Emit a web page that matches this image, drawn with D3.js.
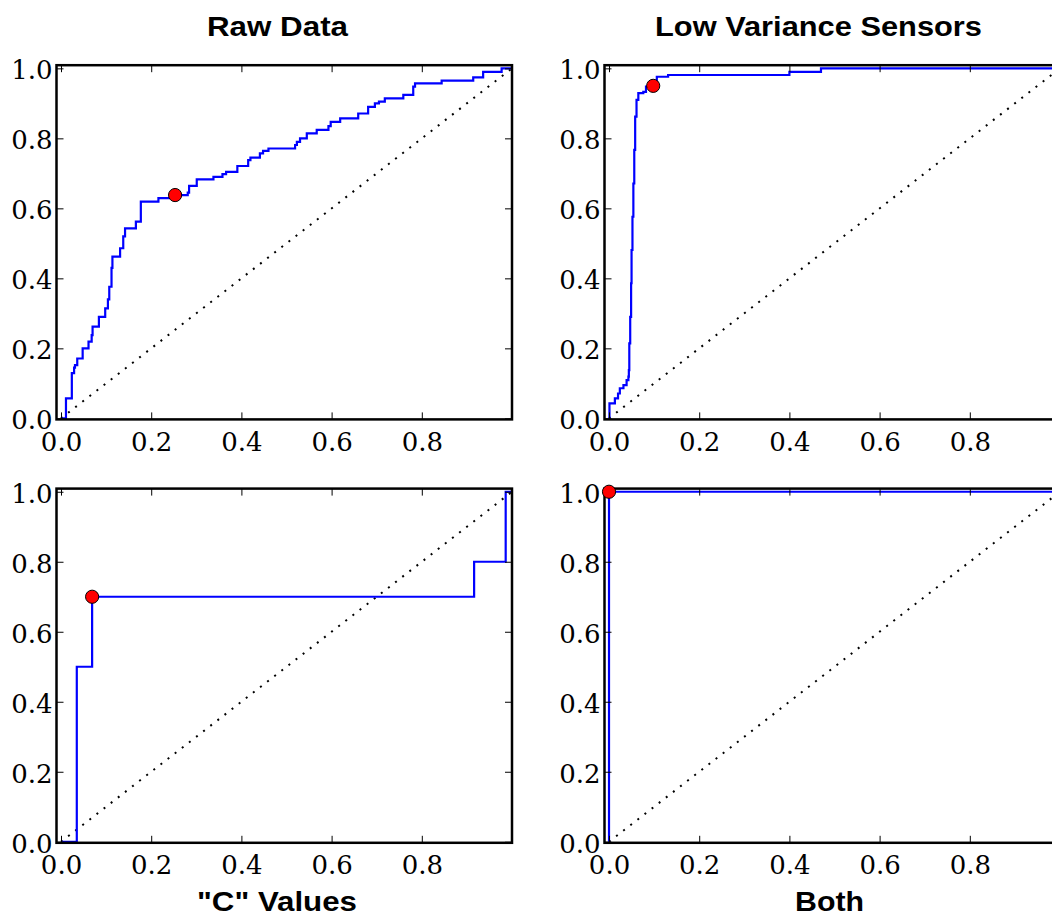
<!DOCTYPE html>
<html>
<head>
<meta charset="utf-8">
<script src="https://cdn.jsdelivr.net/npm/d3@7"></script>
<style>
body { margin: 0; background: #fff; }
</style>
</head>
<body>
<div class="chart"></div>
<script>
var svgWidth = 1052;
var svgHeight = 922;

// ROC curves (left end of each horizontal run)
var rawFpr = [0.000, 0.011, 0.024, 0.029, 0.031, 0.036, 0.048, 0.061, 0.068, 0.070, 0.084, 0.098, 0.104, 0.107,
  0.112, 0.114, 0.131, 0.138, 0.142, 0.166, 0.177, 0.216, 0.258, 0.281, 0.284, 0.301, 0.338, 0.358, 0.366,
  0.391, 0.415, 0.420, 0.441, 0.448, 0.460, 0.519, 0.523, 0.530, 0.545, 0.567, 0.593, 0.598, 0.619, 0.659,
  0.681, 0.696, 0.705, 0.718, 0.759, 0.781, 0.785, 0.844, 0.914, 0.936, 0.977, 1.000];
var rawTpr = [0.000, 0.057, 0.129, 0.145, 0.152, 0.171, 0.200, 0.219, 0.238, 0.262, 0.290, 0.314, 0.340, 0.376,
  0.430, 0.462, 0.486, 0.520, 0.543, 0.562, 0.619, 0.629, 0.638, 0.645, 0.664, 0.683, 0.690, 0.698, 0.704,
  0.721, 0.738, 0.745, 0.757, 0.764, 0.771, 0.781, 0.790, 0.800, 0.814, 0.824, 0.835, 0.847, 0.857, 0.871,
  0.890, 0.900, 0.905, 0.914, 0.924, 0.948, 0.957, 0.965, 0.974, 0.990, 1.000, 1.000];
var rawBest = [0.253, 0.638];

var lowVarFpr = [0.000, 0.001, 0.013, 0.020, 0.024, 0.032, 0.039, 0.043, 0.044, 0.045, 0.047, 0.049, 0.050,
  0.052, 0.054, 0.056, 0.058, 0.061, 0.065, 0.076, 0.082, 0.098, 0.106, 0.131, 0.400, 0.470, 1.000];
var lowVarTpr = [0.000, 0.043, 0.057, 0.071, 0.086, 0.095, 0.109, 0.119, 0.138, 0.214, 0.290, 0.386, 0.481,
  0.576, 0.671, 0.767, 0.862, 0.910, 0.929, 0.933, 0.948, 0.950, 0.976, 0.981, 0.990, 1.000, 1.000];
var lowVarBest = [0.098, 0.950];

var cValFpr = [0.000, 0.035, 0.069, 0.916, 0.986, 1.000];
var cValTpr = [0.000, 0.500, 0.700, 0.800, 1.000, 1.000];
var cValBest = [0.069, 0.700];

var bothFpr = [0.000, 0.000, 1.000];
var bothTpr = [0.000, 1.000, 1.000];
var bothBest = [0.000, 1.000];

var chanceLine = [0, 1];
var xTicks = [0, 0.2, 0.4, 0.6, 0.8];
var yTicks = [0, 0.2, 0.4, 0.6, 0.8, 1.0];
var titles = ["Raw Data", "Low Variance Sensors", "", ""];
var xLabels = ["", "", "\"C\" Values", "Both"];

// layout of the 2x2 grid
var panels = [
  { fpr: rawFpr, tpr: rawTpr, best: rawBest, left: 56.5, top: 65.2, title: titles[0], titleX: 277.5, titleLen: 141, xLabel: xLabels[0] },
  { fpr: lowVarFpr, tpr: lowVarTpr, best: lowVarBest, left: 604.5, top: 65.2, title: titles[1], titleX: 818.5, titleLen: 327, xLabel: xLabels[1] },
  { fpr: cValFpr, tpr: cValTpr, best: cValBest, left: 56.5, top: 488.6, title: titles[2], xLabel: xLabels[2], labelX: 277, labelLen: 160 },
  { fpr: bothFpr, tpr: bothTpr, best: bothBest, left: 604.5, top: 488.6, title: titles[3], xLabel: xLabels[3], labelX: 829.5, labelLen: 69 }
];

var plotW = 455.5;
var plotH = 354.2;

var svg = d3.select(".chart")
  .append("svg")
  .attr("width", svgWidth)
  .attr("height", svgHeight)
  .style("display", "block");

var tickFont = "'DejaVu Serif', serif";
var titleFont = "'Liberation Sans', Arial, sans-serif";

panels.forEach(function(p, i) {
  var x = d3.scaleLinear().domain([-0.01, 1.0]).range([p.left, p.left + plotW]);
  var y = d3.scaleLinear().domain([-0.003, 1.009]).range([p.top + plotH, p.top]);

  var clipId = "clip" + i;
  svg.append("clipPath").attr("id", clipId)
    .append("rect")
    .attr("x", p.left).attr("y", p.top)
    .attr("width", plotW).attr("height", plotH);

  var g = svg.append("g");
  var inner = g.append("g").attr("clip-path", "url(#" + clipId + ")");

  // chance diagonal
  inner.append("path")
    .datum(chanceLine.map(function(v) { return [v, v]; }))
    .attr("d", d3.line().x(function(d) { return x(d[0]); }).y(function(d) { return y(d[1]); }))
    .attr("fill", "none")
    .attr("stroke", "#000")
    .attr("stroke-width", 2)
    .attr("stroke-dasharray", "2,7");

  // roc curve
  inner.append("path")
    .datum(d3.zip(p.fpr, p.tpr))
    .attr("d", d3.line()
      .x(function(d) { return x(d[0]); })
      .y(function(d) { return y(d[1]); })
      .curve(d3.curveStepAfter))
    .attr("fill", "none")
    .attr("stroke", "#0000ff")
    .attr("stroke-width", 2.2);

  // ticks on all four sides, pointing in
  var axB = g.append("g").attr("transform", "translate(0," + (p.top + plotH) + ")")
    .call(d3.axisBottom(x).tickValues(xTicks).tickSize(-7).tickPadding(13).tickFormat(d3.format(".1f")));
  var axT = g.append("g").attr("transform", "translate(0," + p.top + ")")
    .call(d3.axisTop(x).tickValues(xTicks).tickSize(-7).tickFormat(""));
  var axL = g.append("g").attr("transform", "translate(" + p.left + ",0)")
    .call(d3.axisLeft(y).tickValues(yTicks).tickSize(-7).tickPadding(4).tickFormat(d3.format(".1f")));
  var axR = g.append("g").attr("transform", "translate(" + (p.left + plotW) + ",0)")
    .call(d3.axisRight(y).tickValues(yTicks).tickSize(-7).tickFormat(""));

  [axB, axT, axL, axR].forEach(function(a) {
    a.select(".domain").remove();
    a.selectAll(".tick line").attr("stroke", "#000").attr("stroke-width", 1);
    a.selectAll("text")
      .attr("font-family", tickFont)
      .attr("font-size", 26)
      .attr("fill", "#000");
  });
  axL.selectAll("text").attr("dy", "0.4em");

  // frame
  g.append("rect")
    .attr("x", p.left).attr("y", p.top)
    .attr("width", plotW).attr("height", plotH)
    .attr("fill", "none")
    .attr("stroke", "#000")
    .attr("stroke-width", 2.5);

  // best operating point
  g.append("circle")
    .attr("cx", x(p.best[0]))
    .attr("cy", y(p.best[1]))
    .attr("r", 6.6)
    .attr("fill", "#ff0000")
    .attr("stroke", "#000")
    .attr("stroke-width", 1);

  if (p.title) {
    svg.append("text")
      .text(p.title)
      .attr("x", p.titleX)
      .attr("y", 36)
      .attr("text-anchor", "middle")
      .attr("font-family", titleFont)
      .attr("font-weight", "bold")
      .attr("font-size", 28)
      .attr("textLength", p.titleLen)
      .attr("lengthAdjust", "spacingAndGlyphs")
      .attr("fill", "#000");
  }
  if (p.xLabel) {
    svg.append("text")
      .text(p.xLabel)
      .attr("x", p.labelX)
      .attr("y", 911)
      .attr("text-anchor", "middle")
      .attr("font-family", titleFont)
      .attr("font-weight", "bold")
      .attr("font-size", 28)
      .attr("textLength", p.labelLen)
      .attr("lengthAdjust", "spacingAndGlyphs")
      .attr("fill", "#000");
  }
});
</script>
</body>
</html>
